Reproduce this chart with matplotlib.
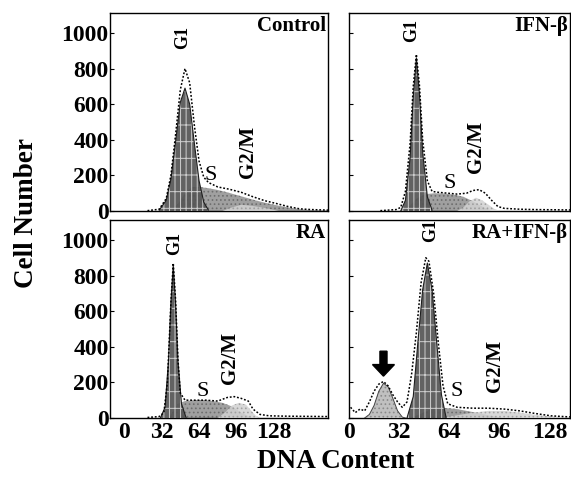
import numpy as np
import matplotlib
matplotlib.use("Agg")
from matplotlib import pyplot as plt

plt.rcParams['font.family'] = ['Liberation Serif', 'DejaVu Serif']
plt.rcParams['hatch.linewidth'] = 0.7

# ---- data (DNA content, cell number) ----
ctrl_g1_x = [30, 36, 40, 44, 48, 52, 56, 60, 64, 68, 72]
ctrl_g1_y = [5, 60, 180, 390, 610, 690, 600, 380, 170, 50, 5]
ctrl_s_x = [40, 46, 52, 58, 64, 72, 80, 88, 96, 104, 112, 120, 128, 136, 144, 152, 160, 174]
ctrl_s_y = [0, 40, 100, 135, 135, 128, 118, 105, 90, 75, 60, 47, 35, 25, 15, 9, 5, 3]
ctrl_g2_x = [84, 92, 100, 108, 116, 124, 132]
ctrl_g2_y = [0, 20, 35, 30, 22, 12, 0]
ctrl_tot_x = [20, 30, 36, 40, 44, 48, 52, 56, 60, 64, 68, 72, 80, 90, 100, 110, 120, 130, 140, 150, 160, 174]
ctrl_tot_y = [2, 10, 70, 200, 430, 680, 800, 720, 480, 280, 190, 160, 135, 122, 105, 80, 58, 42, 25, 12, 8, 5]

ifn_g1_x = [33, 36, 39, 41, 43, 45, 47, 50, 53]
ifn_g1_y = [0, 60, 300, 640, 860, 650, 330, 80, 5]
ifn_s_x = [35, 39, 43, 49, 55, 61, 67, 73, 79, 85, 91]
ifn_s_y = [0, 30, 70, 95, 100, 98, 92, 80, 55, 25, 0]
ifn_g2_x = [69, 73, 77, 81, 85, 89, 93, 97]
ifn_g2_y = [0, 20, 55, 75, 60, 35, 10, 0]
ifn_tot_x = [20, 30, 33, 36, 39, 41, 43, 45, 47, 50, 53, 57, 63, 69, 75, 79, 83, 87, 91, 95, 99, 109, 119, 141]
ifn_tot_y = [2, 8, 20, 110, 380, 700, 880, 700, 400, 170, 110, 105, 100, 95, 100, 115, 120, 100, 60, 25, 15, 10, 8, 6]

ra_g1_x = [31, 35, 38, 40, 42, 44, 46, 49, 53]
ra_g1_y = [0, 60, 330, 650, 855, 640, 320, 80, 0]
ra_s_x = [38, 42, 46, 52, 60, 68, 76, 84, 92, 100, 108]
ra_s_y = [0, 40, 80, 95, 100, 100, 95, 85, 65, 30, 5]
ra_g2_x = [80, 86, 92, 98, 104, 108, 112, 116]
ra_g2_y = [0, 30, 70, 85, 75, 45, 15, 0]
ra_tot_x = [20, 30, 34, 37, 40, 42, 44, 46, 48, 52, 60, 70, 80, 88, 94, 100, 106, 110, 116, 124, 140, 174]
ra_tot_y = [3, 8, 30, 200, 650, 870, 660, 330, 140, 100, 100, 100, 95, 115, 120, 110, 95, 50, 20, 12, 10, 8]

rai_apo_x = [10, 13, 16, 19, 22, 25, 28, 31, 34, 36]
rai_apo_y = [0, 20, 70, 150, 195, 175, 110, 40, 5, 0]
rai_g1_x = [37, 41, 44, 47, 50, 53, 56, 59, 62]
rai_g1_y = [0, 120, 430, 720, 870, 720, 420, 130, 0]
rai_s_x = [39, 45, 51, 57, 63, 69, 75, 81, 89, 99]
rai_s_y = [0, 20, 45, 55, 55, 50, 40, 30, 15, 0]
rai_g2_x = [59, 69, 79, 89, 99, 109, 119, 129, 141]
rai_g2_y = [0, 15, 30, 40, 40, 30, 18, 8, 3]
rai_tot_x = [1, 4, 7, 10, 13, 16, 19, 22, 25, 28, 31, 34, 37, 40, 43, 46, 49, 51, 54, 57, 60, 63, 69, 79, 89, 99, 109, 119, 129, 141]
rai_tot_y = [60, 30, 50, 40, 90, 150, 190, 205, 180, 130, 90, 60, 90, 250, 480, 760, 900, 880, 700, 420, 180, 80, 60, 55, 55, 50, 40, 25, 12, 6]

x_ticks = [0, 32, 64, 96, 128]
y_ticks = [0, 200, 400, 600, 800, 1000]

panels = [
    dict(name="Control", rect=[0.1926, 0.5604, 0.3818, 0.4125], xlim=(-12, 174),
         g1=(ctrl_g1_x, ctrl_g1_y), s=(ctrl_s_x, ctrl_s_y), g2=(ctrl_g2_x, ctrl_g2_y),
         tot=(ctrl_tot_x, ctrl_tot_y), lab_g1=(50, 975), lab_s=(74, 200), lab_g2=(106, 330),
         ylab=True, xlab=False),
    dict(name="IFN-\u03b2", rect=[0.6112, 0.5604, 0.3870, 0.4125], xlim=(0, 141),
         g1=(ifn_g1_x, ifn_g1_y), s=(ifn_s_x, ifn_s_y), g2=(ifn_g2_x, ifn_g2_y),
         tot=(ifn_tot_x, ifn_tot_y), lab_g1=(40, 1015), lab_s=(64, 157), lab_g2=(81, 360),
         ylab=False, xlab=False),
    dict(name="RA", rect=[0.1926, 0.1292, 0.3818, 0.4125], xlim=(-12, 174),
         g1=(ra_g1_x, ra_g1_y), s=(ra_s_x, ra_s_y), g2=(ra_g2_x, ra_g2_y),
         tot=(ra_tot_x, ra_tot_y), lab_g1=(43.5, 980), lab_s=(67.5, 150), lab_g2=(90.5, 340),
         ylab=True, xlab=True),
    dict(name="RA+IFN-\u03b2", rect=[0.6112, 0.1292, 0.3870, 0.4125], xlim=(0, 141),
         g1=(rai_g1_x, rai_g1_y), s=(rai_s_x, rai_s_y), g2=(rai_g2_x, rai_g2_y),
         tot=(rai_tot_x, rai_tot_y), lab_g1=(52, 1055), lab_s=(69, 150), lab_g2=(93, 290),
         ylab=False, xlab=True, apo=(rai_apo_x, rai_apo_y)),
]

fig = plt.figure(figsize=(5.71, 4.80), dpi=100)

for p in panels:
    ax = fig.add_axes(p["rect"])
    # S phase, G2/M, then G1 on top
    ax.fill_between(*p["s"], color="#a0a0a0", hatch="....", edgecolor="#6e6e6e", lw=0, zorder=2)
    ax.fill_between(*p["g2"], color="#d2d2d2", hatch="....", edgecolor="#9c9c9c", lw=0,
                    alpha=0.85, zorder=3)
    if "apo" in p:
        ax.fill_between(*p["apo"], color="#c0c0c0", hatch="....", edgecolor="#8a8a8a", lw=0, zorder=3)
        ax.plot(*p["apo"], color="#444444", lw=0.7, zorder=4)
        ax_x = p["apo"][0][int(np.argmax(p["apo"][1]))]
        ax_top = max(p["apo"][1])
        ax.arrow(ax_x, ax_top + 180, 0, -140, width=4.5, head_width=14, head_length=65,
                 length_includes_head=True, color="black", zorder=6)
    ax.fill_between(*p["g1"], color="#555555", hatch="|||-", edgecolor="#d8d8d8", lw=0,
                    alpha=0.92, zorder=4)
    ax.plot(*p["g1"], color="#1e1e1e", lw=0.8, zorder=5)
    ax.plot(*p["tot"], color="black", lw=1.1, ls=(0, (1.2, 1.2)), zorder=6)

    ax.text(*p["lab_g1"], "G1", rotation=90, ha="center", va="center",
            fontsize=13, fontweight="bold", zorder=7, clip_on=False)
    ax.text(*p["lab_s"], "S", ha="center", va="center", fontsize=16, zorder=7)
    ax.text(*p["lab_g2"], "G2/M", rotation=90, ha="center", va="center",
            fontsize=15, fontweight="bold", zorder=7)
    ax.text(0.99, 0.935, p["name"], transform=ax.transAxes, ha="right", va="center",
            fontsize=15, fontweight="bold", zorder=7)

    ax.set_xlim(*p["xlim"])
    ax.set_ylim(0, 1112)
    ax.set_xticks(x_ticks)
    ax.set_yticks(y_ticks)
    ax.tick_params(direction="in", length=3, width=0.8, pad=1)
    if p["ylab"]:
        ax.set_yticklabels([str(v) for v in y_ticks], fontsize=17, fontweight="bold")
    else:
        ax.set_yticklabels([])
    if p["xlab"]:
        ax.set_xticklabels([str(v) for v in x_ticks], fontsize=17, fontweight="bold")
        ax.tick_params(axis="x", length=0, pad=3)
    else:
        ax.set_xticklabels([])
        ax.tick_params(axis="x", length=0)
    for sp in ax.spines.values():
        sp.set_linewidth(1.0)

fig.text(0.046, 0.556, "Cell Number", rotation=90, ha="center", va="center",
         fontsize=19.5, fontweight="bold")
fig.text(0.588, 0.038, "DNA Content", ha="center", va="center",
         fontsize=19.5, fontweight="bold")

fig.savefig("out.png", dpi=100)
